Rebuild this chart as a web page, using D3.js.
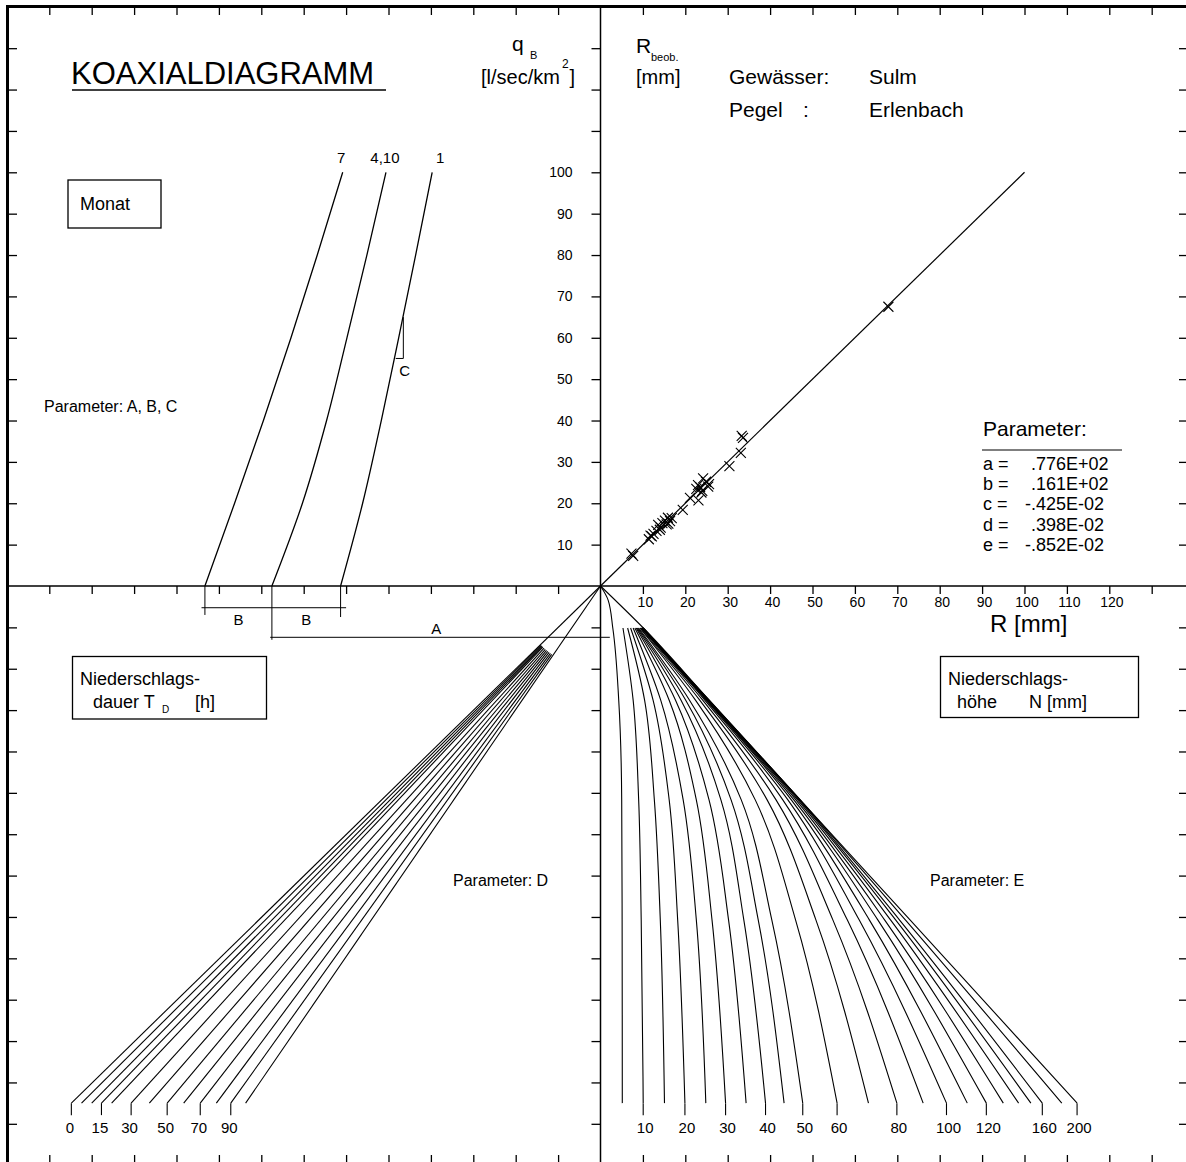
<!DOCTYPE html>
<html>
<head>
<meta charset="utf-8">
<script src="https://cdn.jsdelivr.net/npm/d3@7"></script>
<style>
  html, body { margin: 0; padding: 0; background: #fff; }
  svg { display: block; }
  text { font-family: "Liberation Sans", Arial, Helvetica, sans-serif; fill: #000; }
</style>
</head>
<body>
<svg id="chart" width="1186" height="1162"></svg>
<script>
// ---------------- data ----------------
// axis ticks (10-unit grid) and labelled values
const gridTicks = [10, 20, 30, 40, 50, 60, 70, 80, 90, 100, 110, 120, 130];
const rAxisLabels = [10, 20, 30, 40, 50, 60, 70, 80, 90, 100, 110, 120];
const rBeobLabels = [10, 20, 30, 40, 50, 60, 70, 80, 90, 100];

// upper left: month curves, q_B levels -> horizontal position (left units)
const monthNames = ["7", "4,10", "1"];
const qLevels = [0, 20, 40, 60, 80, 100];
const month7 = [93.3, 86.3, 79.5, 73.0, 66.8, 60.8];
const month4_10 = [77.5, 70.3, 64.6, 59.8, 55.1, 50.6];
const month1 = [61.3, 56.1, 51.7, 47.6, 43.6, 39.7];

// "C" marker on curve 1 (q_B top/bottom, left units of edge and curve)
const cMark = { qTop: 65, qBottom: 55, uEdge: 46.5, uCurve: 48.3 };

// upper right: computed vs. observed runoff [mm]
const rCalc = [67.9, 33.3, 33.6, 33.1, 30.4, 25.6, 24.9, 24.2, 23.5, 23.0, 22.6, 24.0, 25.4, 23.8,
               23.1, 21.1, 19.4, 16.8, 16.4, 15.9, 15.6, 15.2, 14.6, 14.2, 13.6, 13.2, 12.5, 12.1,
               11.4, 11.8, 7.7, 7.3, 16.0, 14.0];
const rObs  = [67.5, 36.3, 35.8, 32.2, 29.0, 24.6, 25.2, 26.0, 23.9, 24.4, 23.5, 23.0, 24.0, 22.6,
               20.7, 21.3, 18.4, 16.4, 15.7, 16.5, 14.9, 15.8, 15.2, 14.1, 14.8, 13.3, 12.6, 12.0,
               11.3, 12.2, 7.3, 7.8, 15.1, 13.6];

// parameter list
const paramNames = ["a", "b", "c", "d", "e"];
const paramValues = [".776E+02", ".161E+02", "-.425E-02", ".398E-02", "-.852E-02"];

// lower left: rain duration T_D [h] rays, end position (left units) at depth 125
const durations = [0, 5, 10, 15, 20, 30, 40, 50, 60, 70, 80, 90, 100];
const durationEnds = [124.8, 122.4, 120.0, 117.7, 115.3, 110.7, 106.4, 102.2, 98.3, 94.4, 90.6, 87.2, 83.7];
const durationLabels = [0, 15, 30, 50, 70, 90];

// lower right: rain depth N [mm] curves, R [mm] at depth levels
const depthLevels = [10.15, 27.6, 51.7, 80.7, 125];
const rainDepths = [10, 15, 20, 25, 30, 35, 40, 45, 50, 60, 70, 80, 90, 100, 110, 120, 130, 140, 150, 160, 180, 200];
const rainCurves = [
  [5.3, 7.7, 9.0, 9.6, 10.07],
  [6.4, 10.4, 12.7, 14.1, 15.09],
  [7.1, 12.4, 16.2, 18.2, 19.91],
  [7.7, 14.2, 19.5, 22.6, 24.84],
  [8.1, 16.2, 22.6, 26.3, 29.5],
  [8.4, 17.7, 25.6, 30.2, 34.34],
  [8.6, 19.0, 28.4, 33.8, 38.92],
  [8.8, 20.1, 30.8, 37.2, 43.3],
  [9.0, 21.0, 33.2, 40.4, 47.7],
  [9.3, 22.4, 36.5, 46.0, 55.8],
  [9.4, 23.4, 39.3, 50.8, 63.2],
  [9.6, 24.1, 41.4, 54.8, 69.9],
  [9.7, 24.6, 43.0, 58.2, 76.1],
  [9.8, 24.9, 44.2, 61.0, 81.6],
  [9.8, 25.1, 45.0, 63.4, 86.5],
  [9.9, 25.2, 45.6, 65.4, 91.0],
  [9.9, 25.3, 46.1, 67.0, 95.0],
  [10.0, 25.4, 46.5, 68.4, 98.6],
  [10.0, 25.5, 46.8, 69.6, 101.5],
  [10.0, 25.5, 47.0, 70.5, 104.2],
  [10.1, 25.6, 47.1, 71.9, 108.8],
  [10.1, 25.65, 47.1, 73.0, 112.4]
];
// N = 5 curve runs from the origin
const rain5Levels = [0, 3.4, 10.15, 27.6, 51.7, 80.7, 125];
const rain5Values = [0, 1.8, 2.9, 4.3, 5.0, 5.1, 5.14];
const rainLabels = [10, 20, 30, 40, 50, 60, 80, 100, 120, 160, 200];

// ---------------- layout ----------------
const W = 1186, H = 1162;
const X0 = 600.5, Y0 = 586;      // common origin of the four quadrants
const UX = 4.24, UY = 4.137;     // px per unit
const FONT = '"Liberation Sans", Arial, Helvetica, sans-serif';

const xRight = d3.scaleLinear().domain([0, 140]).range([X0, X0 + 140 * UX]);
const xLeft  = d3.scaleLinear().domain([0, 140]).range([X0, X0 - 140 * UX]);
const yUp    = d3.scaleLinear().domain([0, 140]).range([Y0, Y0 - 140 * UY]);
const yDown  = d3.scaleLinear().domain([0, 140]).range([Y0, Y0 + 140 * UY]);

const svg = d3.select("#chart");
svg.append("rect").attr("width", W).attr("height", H).attr("fill", "#fff");

const ink = svg.append("g").attr("stroke", "#000").attr("fill", "none");

function text(x, y, s, size, anchor) {
  return svg.append("text").attr("x", x).attr("y", y)
    .attr("font-size", size).attr("text-anchor", anchor || "start").text(s);
}

function styleAxis(g, size) {
  g.attr("font-family", FONT).attr("font-size", size || 14);
  g.select(".domain").remove();
  g.selectAll(".tick line").attr("stroke", "#000").attr("stroke-width", 1.3);
  g.selectAll(".tick text").attr("fill", "#000");
}

// ---------------- frame ----------------
ink.append("line").attr("x1", 7.5).attr("x2", 7.5).attr("y1", 5).attr("y2", H).attr("stroke-width", 3);
ink.append("line").attr("x1", 6).attr("x2", W).attr("y1", 6.5).attr("y2", 6.5).attr("stroke-width", 3);

// frame ticks: top, bottom, left, right
svg.append("g").attr("transform", `translate(0,8)`)
  .call(d3.axisBottom(xRight).tickValues(gridTicks).tickSize(7).tickFormat(""))
  .call(g => styleAxis(g));
svg.append("g").attr("transform", `translate(0,8)`)
  .call(d3.axisBottom(xLeft).tickValues(gridTicks).tickSize(7).tickFormat(""))
  .call(g => styleAxis(g));
svg.append("g").attr("transform", `translate(0,${H})`)
  .call(d3.axisTop(xRight).tickValues(gridTicks).tickSize(7).tickFormat(""))
  .call(g => styleAxis(g));
svg.append("g").attr("transform", `translate(0,${H})`)
  .call(d3.axisTop(xLeft).tickValues(gridTicks).tickSize(7).tickFormat(""))
  .call(g => styleAxis(g));
svg.append("g").attr("transform", `translate(9,0)`)
  .call(d3.axisRight(yUp).tickValues(gridTicks).tickSize(8).tickFormat(""))
  .call(g => styleAxis(g));
svg.append("g").attr("transform", `translate(9,0)`)
  .call(d3.axisRight(yDown).tickValues(gridTicks).tickSize(8).tickFormat(""))
  .call(g => styleAxis(g));
svg.append("g").attr("transform", `translate(${W},0)`)
  .call(d3.axisLeft(yUp).tickValues(gridTicks).tickSize(7).tickFormat(""))
  .call(g => styleAxis(g));
svg.append("g").attr("transform", `translate(${W},0)`)
  .call(d3.axisLeft(yDown).tickValues(gridTicks).tickSize(7).tickFormat(""))
  .call(g => styleAxis(g));

// ---------------- main axes ----------------
ink.append("line").attr("x1", 9).attr("x2", W).attr("y1", Y0).attr("y2", Y0).attr("stroke-width", 1.5);
ink.append("line").attr("x1", X0).attr("x2", X0).attr("y1", 8).attr("y2", H).attr("stroke-width", 1.5);

// R axis (right half) with labels
svg.append("g").attr("transform", `translate(0,${Y0})`)
  .call(d3.axisBottom(xRight).tickValues(gridTicks).tickSize(8).tickPadding(3)
    .tickFormat(d => rAxisLabels.includes(d) ? d : ""))
  .call(g => styleAxis(g, 14))
  .call(g => g.selectAll(".tick text").attr("dx", 2));
// left half ticks
svg.append("g").attr("transform", `translate(0,${Y0})`)
  .call(d3.axisBottom(xLeft).tickValues(gridTicks).tickSize(8).tickFormat(""))
  .call(g => styleAxis(g));
// vertical axis, upper half with R_beob / q_B labels
svg.append("g").attr("transform", `translate(${X0},0)`)
  .call(d3.axisLeft(yUp).tickValues(gridTicks).tickSize(9).tickPadding(19)
    .tickFormat(d => rBeobLabels.includes(d) ? d : ""))
  .call(g => styleAxis(g, 14));
// vertical axis, lower half
svg.append("g").attr("transform", `translate(${X0},0)`)
  .call(d3.axisLeft(yDown).tickValues(gridTicks).tickSize(9).tickFormat(""))
  .call(g => styleAxis(g));

// ---------------- titles and headers ----------------
text(71, 84, "KOAXIALDIAGRAMM", 31);
ink.append("line").attr("x1", 72).attr("x2", 386).attr("y1", 90).attr("y2", 90).attr("stroke-width", 1.3);

text(512, 51, "q", 21);
text(530, 59, "B", 11);
const qUnit = text(481, 84, "[l/sec/km", 20);
qUnit.append("tspan").attr("font-size", 12).attr("dx", 2).attr("dy", -16).text("2");
qUnit.append("tspan").attr("font-size", 20).attr("dx", 1).attr("dy", 16).text("]");

text(636, 53, "R", 21);
text(651, 61, "beob.", 11);
text(636, 84, "[mm]", 20);
text(729, 84, "Gewässer:", 21);
text(869, 84, "Sulm", 21);
text(729, 117, "Pegel", 21);
text(803, 117, ":", 21);
text(869, 117, "Erlenbach", 21);

// ---------------- upper left: month curves ----------------
const monthSeries = [month7, month4_10, month1];
const monthLabelDx = [-1.5, -1, 8];
const monthLine = d3.line()
  .x(d => xLeft(d[0])).y(d => yUp(d[1]))
  .curve(d3.curveMonotoneY);
monthSeries.forEach((s, i) => {
  const pts = s.map((u, j) => [u, qLevels[j]]);
  ink.append("path").attr("d", monthLine(pts)).attr("stroke-width", 1.3);
  const top = pts[pts.length - 1];
  text(xLeft(top[0]) + monthLabelDx[i], yUp(top[1]) - 9, monthNames[i], 15, "middle");
});

// C marker
ink.append("path").attr("stroke-width", 1)
  .attr("d", `M${xLeft(cMark.uEdge)},${yUp(cMark.qTop)}V${yUp(cMark.qBottom)}H${xLeft(cMark.uCurve)}`);
text(xLeft(cMark.uEdge) - 4, yUp(cMark.qBottom) + 18, "C", 15);

// Monat box
ink.append("rect").attr("x", 68).attr("y", 180).attr("width", 93).attr("height", 48).attr("stroke-width", 1.3);
text(80, 210, "Monat", 18);
text(44, 412, "Parameter: A, B, C", 16);

// B and A dimension lines below the axis
const base7 = month7[0], base410 = month4_10[0], base1 = month1[0];
const dimB = 5.25, dimA = 12.4;
ink.append("line").attr("stroke-width", 1)
  .attr("x1", xLeft(base7 + 0.8)).attr("x2", xLeft(base1 - 1.3))
  .attr("y1", yDown(dimB)).attr("y2", yDown(dimB));
ink.append("line").attr("stroke-width", 1)
  .attr("x1", xLeft(base7)).attr("x2", xLeft(base7)).attr("y1", yDown(0)).attr("y2", yDown(7));
ink.append("line").attr("stroke-width", 1)
  .attr("x1", xLeft(base410)).attr("x2", xLeft(base410)).attr("y1", yDown(0)).attr("y2", yDown(13));
ink.append("line").attr("stroke-width", 1)
  .attr("x1", xLeft(base1)).attr("x2", xLeft(base1)).attr("y1", yDown(0)).attr("y2", yDown(7.5));
ink.append("line").attr("stroke-width", 1)
  .attr("x1", xLeft(base410 + 0.4)).attr("x2", xLeft(-2.2))
  .attr("y1", yDown(dimA)).attr("y2", yDown(dimA));
text((xLeft(base7) + xLeft(base410)) / 2, yDown(dimB) + 17, "B", 15, "middle");
text((xLeft(base410) + xLeft(base1)) / 2, yDown(dimB) + 17, "B", 15, "middle");
text((xLeft(base410) + xLeft(0)) / 2, yDown(dimA) - 3, "A", 15, "middle");

// ---------------- upper right: observed vs computed ----------------
ink.append("line").attr("stroke-width", 1.2)
  .attr("x1", xRight(0)).attr("y1", yUp(0)).attr("x2", xRight(100)).attr("y2", yUp(100));
const cross = 5;
ink.append("g").attr("stroke-width", 1.1)
  .selectAll("path").data(rCalc.map((r, i) => [r, rObs[i]])).join("path")
  .attr("d", d => {
    const x = xRight(d[0]), y = yUp(d[1]);
    return `M${x - cross},${y - cross}L${x + cross},${y + cross}M${x - cross},${y + cross}L${x + cross},${y - cross}`;
  });

text(990, 632, "R [mm]", 24);
text(983, 436, "Parameter:", 21);
ink.append("line").attr("x1", 982).attr("x2", 1122).attr("y1", 450).attr("y2", 450).attr("stroke-width", 1.2);
paramNames.forEach((p, i) => {
  const y = 470 + i * 20.2;
  text(983, y, p + " =", 18);
  const v = paramValues[i];
  if (v[0] === "-") {
    text(1031, y, "-", 18, "end");
    text(1031, y, v.slice(1), 18);
  } else {
    text(1031, y, v, 18);
  }
});

// ---------------- lower left: duration rays ----------------
const fanInner = 84;   // px radius where the inner rays begin
const rayEndDepth = 125;
durations.forEach((t, i) => {
  const ex = xLeft(durationEnds[i]), ey = yDown(rayEndDepth);
  const len = Math.hypot(ex - X0, ey - Y0);
  const outer = (i === 0 || i === durations.length - 1);
  const f = outer ? 0 : fanInner / len;
  ink.append("line").attr("stroke-width", 1.1)
    .attr("x1", X0 + (ex - X0) * f).attr("y1", Y0 + (ey - Y0) * f)
    .attr("x2", ex).attr("y2", ey);
  if (durationLabels.includes(t)) {
    ink.append("line").attr("stroke-width", 1.1)
      .attr("x1", ex).attr("x2", ex).attr("y1", ey).attr("y2", ey + 12);
    text(ex - 1.5, ey + 30, String(t), 15, "middle");
  }
});

ink.append("rect").attr("x", 72.5).attr("y", 656.5).attr("width", 194).attr("height", 62.5).attr("stroke-width", 1.3);
text(80, 685, "Niederschlags-", 18);
text(93, 708, "dauer T", 18);
text(162, 713, "D", 10);
text(195, 708, "[h]", 18);
text(453, 886, "Parameter: D", 16);

// ---------------- lower right: rain depth curves ----------------
const rainLine = d3.line()
  .x(d => xRight(d[0])).y(d => yDown(d[1]))
  .curve(d3.curveMonotoneY);
rainCurves.forEach((vals, i) => {
  let pts = vals.map((r, j) => [r, depthLevels[j]]);
  if (rainDepths[i] === 200) pts = [[0, 0]].concat(pts);
  ink.append("path").attr("d", rainLine(pts)).attr("stroke-width", 1.1);
  const end = pts[pts.length - 1];
  if (rainLabels.includes(rainDepths[i])) {
    const ex = xRight(end[0]), ey = yDown(end[1]);
    ink.append("line").attr("stroke-width", 1.1)
      .attr("x1", ex).attr("x2", ex).attr("y1", ey).attr("y2", ey + 12);
    text(ex + 2, ey + 30, String(rainDepths[i]), 15, "middle");
  }
});
ink.append("path").attr("stroke-width", 1.1)
  .attr("d", rainLine(rain5Values.map((r, j) => [r, rain5Levels[j]])));

ink.append("rect").attr("x", 940.5).attr("y", 656.5).attr("width", 198).attr("height", 61).attr("stroke-width", 1.3);
text(948, 685, "Niederschlags-", 18);
text(957, 708, "höhe", 18);
text(1029, 708, "N [mm]", 18);
text(930, 886, "Parameter: E", 16);
</script>
</body>
</html>
